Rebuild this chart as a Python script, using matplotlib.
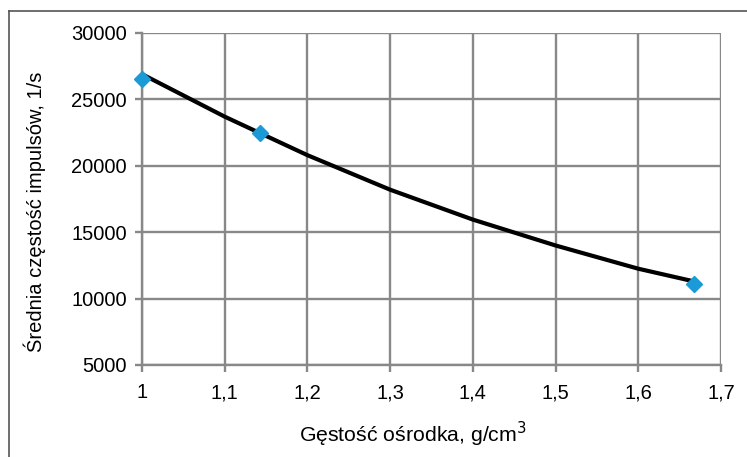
import matplotlib.pyplot as plt
from matplotlib.lines import Line2D
from matplotlib.ticker import FuncFormatter

plt.rcParams['font.family'] = ['Liberation Sans', 'DejaVu Sans']

# punkty pomiarowe
gestosc = [1.0, 1.143, 1.667]
impulsy = [26500, 22500, 11100]

# linia trendu
trend_x = [1.0, 1.1, 1.2, 1.3, 1.4, 1.5, 1.6, 1.667]
trend_y = [26900, 23700, 20800, 18200, 15950, 14000, 12250, 11300]

x_ticks = [1.0, 1.1, 1.2, 1.3, 1.4, 1.5, 1.6, 1.7]
y_ticks = [5000, 10000, 15000, 20000, 25000, 30000]

W, H = 747, 457
fig = plt.figure(figsize=(W / 100, H / 100), dpi=100)
ax = fig.add_axes([142 / W, 1 - 365 / H, (721 - 142) / W, (365 - 33) / H])

szary = '#888888'
ax.plot(trend_x, trend_y, color='black', lw=3, zorder=3)
ax.plot(gestosc, impulsy, linestyle='none', marker='D', ms=8.5,
        color='#1a9ad6', mec='#1a9ad6', zorder=4, clip_on=False)

ax.set_xlim(1.0, 1.7)
ax.set_ylim(5000, 30000)
ax.set_xticks(x_ticks)
ax.set_yticks(y_ticks)
ax.xaxis.set_major_formatter(FuncFormatter(lambda v, p: f'{v:g}'.replace('.', ',')))
ax.grid(True, color=szary, lw=1.7)
ax.set_axisbelow(True)
for s in ['top', 'right']:
    ax.spines[s].set_visible(False)
for s in ['left', 'bottom']:
    ax.spines[s].set_color(szary)
    ax.spines[s].set_linewidth(1.7)
ax.tick_params(axis='both', colors=szary, width=1.7, length=5, labelsize=14.5,
               labelcolor='black')
ax.tick_params(axis='x', pad=8)
ax.tick_params(axis='y', pad=6)

ax.set_xlabel('Gęstość ośrodka, g/cm$^3$', fontsize=15.3)
ax.xaxis.label.set_va('baseline')
ax.xaxis.set_label_coords((413 - 142) / 579, (365 - 442) / 332)
ax.set_ylabel('Średnia częstość impulsów, 1/s', fontsize=14.5)
ax.yaxis.label.set_va('center')
ax.yaxis.set_label_coords((35 - 142) / 579, (365 - 212) / 332)

# ramka wykresu (widoczna tylko lewa i górna krawędź)
ramka = dict(color='#555555', lw=1.2, transform=fig.transFigure)
fig.lines.append(Line2D([9 / W, 9 / W], [0, 1 - 11 / H], **ramka))
fig.lines.append(Line2D([9 / W, 1], [1 - 11 / H, 1 - 11 / H], **ramka))

fig.savefig('out.png', dpi=100)
